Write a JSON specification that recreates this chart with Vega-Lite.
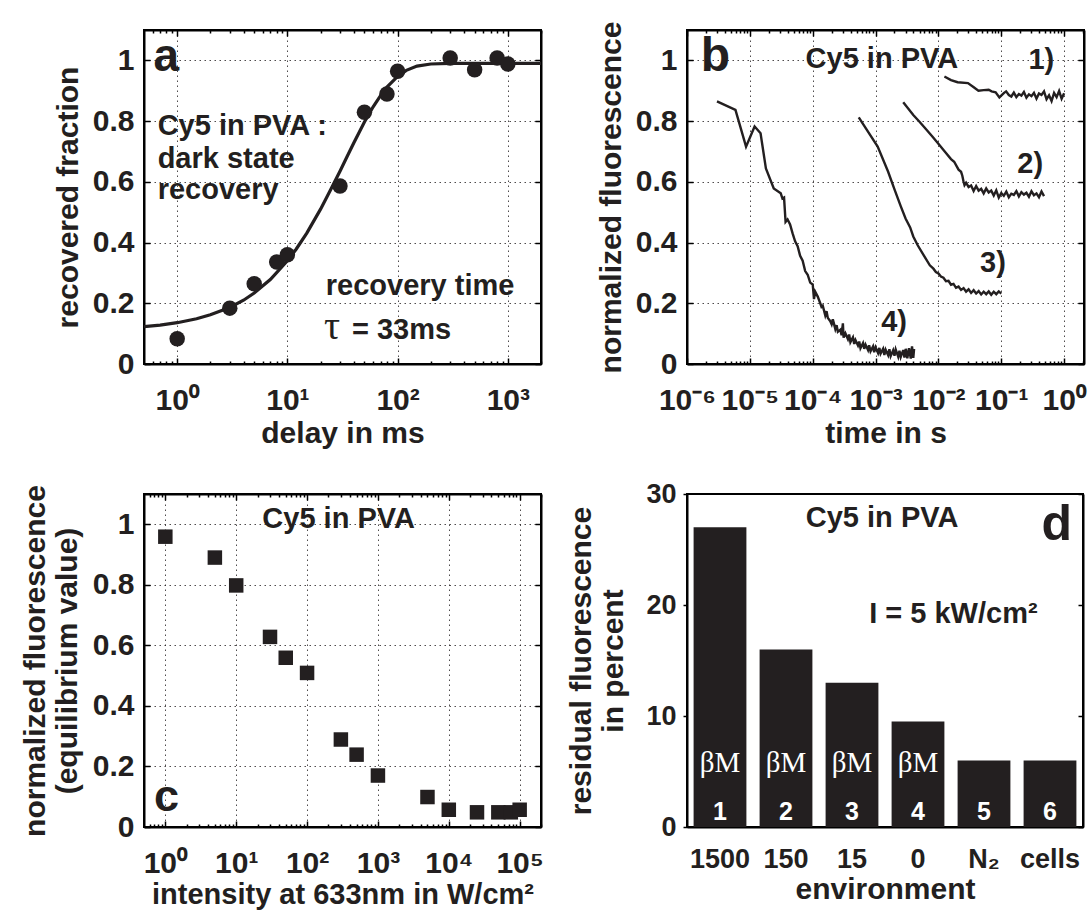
{
  "$schema": "https://vega.github.io/schema/vega-lite/v6.json",
  "padding": {"left": 19, "top": 20, "right": 0, "bottom": 0},
  "config": {
    "font": "Liberation Sans",
    "view": {"stroke": "black", "strokeWidth": 2, "strokeOpacity": 1},
    "axis": {
      "labelFontSize": 30, "labelFontWeight": "bold", "labelColor": "#231f20",
      "titleFontSize": 30, "titleFontWeight": "bold", "titleColor": "#231f20",
      "domain": true, "domainColor": "black", "domainWidth": 2, "domainOpacity": 1,
      "ticks": true, "tickColor": "black", "tickSize": -5, "tickWidth": 1.5, "tickOpacity": 1,
      "gridColor": "#231f20", "gridDash": [1.5, 3.5], "gridWidth": 1,
      "labelOverlap": false, "labelFlush": false
    }
  },
  "datasets": {
    "a_fit": [
      {"t": 0.5, "f": 0.123}, {"t": 0.7, "f": 0.128}, {"t": 1, "f": 0.136}, {"t": 1.5, "f": 0.149},
      {"t": 2, "f": 0.162}, {"t": 3, "f": 0.186}, {"t": 4, "f": 0.21}, {"t": 5, "f": 0.234},
      {"t": 7, "f": 0.278}, {"t": 10, "f": 0.34}, {"t": 12, "f": 0.378}, {"t": 15, "f": 0.431},
      {"t": 20, "f": 0.51}, {"t": 25, "f": 0.578}, {"t": 30, "f": 0.635}, {"t": 35, "f": 0.685},
      {"t": 40, "f": 0.728}, {"t": 50, "f": 0.797}, {"t": 60, "f": 0.847}, {"t": 70, "f": 0.884},
      {"t": 80, "f": 0.912}, {"t": 100, "f": 0.947}, {"t": 120, "f": 0.967}, {"t": 150, "f": 0.981},
      {"t": 200, "f": 0.988}, {"t": 300, "f": 0.99}, {"t": 500, "f": 0.99}, {"t": 1000, "f": 0.99},
      {"t": 2000, "f": 0.99}
    ],
    "a_pts": [
      {"t": 1, "f": 0.083}, {"t": 3, "f": 0.184}, {"t": 5, "f": 0.264}, {"t": 8, "f": 0.336},
      {"t": 10, "f": 0.36}, {"t": 30, "f": 0.586}, {"t": 50, "f": 0.829}, {"t": 80, "f": 0.889},
      {"t": 100, "f": 0.964}, {"t": 300, "f": 1.008}, {"t": 500, "f": 0.969}, {"t": 800, "f": 1.008},
      {"t": 1000, "f": 0.988}
    ],
    "a_text": [
      {"x": 0.665, "y": 0.754, "label": "Cy5 in PVA :"},
      {"x": 0.665, "y": 0.644, "label": "dark state"},
      {"x": 0.665, "y": 0.543, "label": "recovery"},
      {"x": 22.3, "y": 0.226, "label": "recovery time"},
      {"x": 38.5, "y": 0.083, "label": "= 33ms"}
    ],
    "a_tau": [{"x": 21.5, "y": 0.083, "label": "τ"}],
    "a_letter": [{"x": 0.61, "y": 0.964, "label": "a"}],
    "b_traces": [
      {"curve": "1", "t": 1.245e-2, "f": 0.947}, {"curve": "1", "t": 1.585e-2, "f": 0.935},
      {"curve": "1", "t": 2.02e-2, "f": 0.928}, {"curve": "1", "t": 2.95e-2, "f": 0.925},
      {"curve": "1", "t": 3.6e-2, "f": 0.912}, {"curve": "1", "t": 4.33e-2, "f": 0.9},
      {"curve": "1", "t": 5.25e-2, "f": 0.902}, {"curve": "1", "t": 6.31e-2, "f": 0.903},
      {"curve": "1", "t": 7.0e-2, "f": 0.898}, {"curve": "1", "t": 8.13e-2, "f": 0.895},
      {"curve": "1", "t": 9.33e-2, "f": 0.878}, {"curve": "1", "t": 0.1096, "f": 0.892},
      {"curve": "1", "t": 0.1194, "f": 0.898}, {"curve": "1", "t": 0.1318, "f": 0.886},
      {"curve": "1", "t": 0.1445, "f": 0.881}, {"curve": "1", "t": 0.1585, "f": 0.894},
      {"curve": "1", "t": 0.1738, "f": 0.879}, {"curve": "1", "t": 0.1905, "f": 0.889},
      {"curve": "1", "t": 0.2089, "f": 0.884}, {"curve": "1", "t": 0.2291, "f": 0.896},
      {"curve": "1", "t": 0.2512, "f": 0.877}, {"curve": "1", "t": 0.2754, "f": 0.888},
      {"curve": "1", "t": 0.302, "f": 0.882}, {"curve": "1", "t": 0.3311, "f": 0.893},
      {"curve": "1", "t": 0.3631, "f": 0.874}, {"curve": "1", "t": 0.3981, "f": 0.891},
      {"curve": "1", "t": 0.4365, "f": 0.886}, {"curve": "1", "t": 0.4786, "f": 0.898},
      {"curve": "1", "t": 0.5248, "f": 0.872}, {"curve": "1", "t": 0.5754, "f": 0.885},
      {"curve": "1", "t": 0.631, "f": 0.866}, {"curve": "1", "t": 0.6918, "f": 0.893},
      {"curve": "1", "t": 0.7586, "f": 0.879}, {"curve": "1", "t": 0.8318, "f": 0.899},
      {"curve": "1", "t": 0.912, "f": 0.874}, {"curve": "1", "t": 1.0, "f": 0.892},

      {"curve": "2", "t": 2.754e-3, "f": 0.862}, {"curve": "2", "t": 3.98e-3, "f": 0.82},
      {"curve": "2", "t": 5.0e-3, "f": 0.798}, {"curve": "2", "t": 6.31e-3, "f": 0.774},
      {"curve": "2", "t": 7.94e-3, "f": 0.75}, {"curve": "2", "t": 9.4e-3, "f": 0.732},
      {"curve": "2", "t": 1.26e-2, "f": 0.7}, {"curve": "2", "t": 1.585e-2, "f": 0.675},
      {"curve": "2", "t": 1.78e-2, "f": 0.666}, {"curve": "2", "t": 2.09e-2, "f": 0.64},
      {"curve": "2", "t": 2.29e-2, "f": 0.633}, {"curve": "2", "t": 2.4e-2, "f": 0.62},
      {"curve": "2", "t": 2.512e-2, "f": 0.6}, {"curve": "2", "t": 2.6e-2, "f": 0.589},
      {"curve": "2", "t": 2.754e-2, "f": 0.597}, {"curve": "2", "t": 3.02e-2, "f": 0.583},
      {"curve": "2", "t": 3.311e-2, "f": 0.588}, {"curve": "2", "t": 3.631e-2, "f": 0.57},
      {"curve": "2", "t": 3.981e-2, "f": 0.586}, {"curve": "2", "t": 4.365e-2, "f": 0.571},
      {"curve": "2", "t": 4.786e-2, "f": 0.577}, {"curve": "2", "t": 5.248e-2, "f": 0.562},
      {"curve": "2", "t": 5.754e-2, "f": 0.578}, {"curve": "2", "t": 6.31e-2, "f": 0.565},
      {"curve": "2", "t": 6.918e-2, "f": 0.571}, {"curve": "2", "t": 7.586e-2, "f": 0.555},
      {"curve": "2", "t": 8.318e-2, "f": 0.572}, {"curve": "2", "t": 9.12e-2, "f": 0.548},
      {"curve": "2", "t": 0.1, "f": 0.563}, {"curve": "2", "t": 0.1096, "f": 0.554},
      {"curve": "2", "t": 0.1202, "f": 0.568}, {"curve": "2", "t": 0.1318, "f": 0.549},
      {"curve": "2", "t": 0.1445, "f": 0.561}, {"curve": "2", "t": 0.1585, "f": 0.557},
      {"curve": "2", "t": 0.1738, "f": 0.569}, {"curve": "2", "t": 0.1905, "f": 0.552},
      {"curve": "2", "t": 0.2089, "f": 0.566}, {"curve": "2", "t": 0.2291, "f": 0.558},
      {"curve": "2", "t": 0.2512, "f": 0.564}, {"curve": "2", "t": 0.2754, "f": 0.551},
      {"curve": "2", "t": 0.302, "f": 0.569}, {"curve": "2", "t": 0.3311, "f": 0.556},
      {"curve": "2", "t": 0.3631, "f": 0.562}, {"curve": "2", "t": 0.3981, "f": 0.549},
      {"curve": "2", "t": 0.4365, "f": 0.568}, {"curve": "2", "t": 0.4786, "f": 0.553},

      {"curve": "3", "t": 5.4e-4, "f": 0.812}, {"curve": "3", "t": 1.08e-3, "f": 0.716},
      {"curve": "3", "t": 1.585e-3, "f": 0.633}, {"curve": "3", "t": 2.0e-3, "f": 0.575},
      {"curve": "3", "t": 2.512e-3, "f": 0.52}, {"curve": "3", "t": 3.0e-3, "f": 0.479},
      {"curve": "3", "t": 3.55e-3, "f": 0.45}, {"curve": "3", "t": 3.98e-3, "f": 0.42},
      {"curve": "3", "t": 4.68e-3, "f": 0.391}, {"curve": "3", "t": 5.75e-3, "f": 0.36},
      {"curve": "3", "t": 7.3e-3, "f": 0.325}, {"curve": "3", "t": 8.318e-3, "f": 0.314},
      {"curve": "3", "t": 9.12e-3, "f": 0.303}, {"curve": "3", "t": 1.0e-2, "f": 0.298},
      {"curve": "3", "t": 1.096e-2, "f": 0.288}, {"curve": "3", "t": 1.202e-2, "f": 0.284},
      {"curve": "3", "t": 1.318e-2, "f": 0.273}, {"curve": "3", "t": 1.445e-2, "f": 0.274},
      {"curve": "3", "t": 1.585e-2, "f": 0.261}, {"curve": "3", "t": 1.738e-2, "f": 0.264},
      {"curve": "3", "t": 1.905e-2, "f": 0.251}, {"curve": "3", "t": 2.089e-2, "f": 0.255},
      {"curve": "3", "t": 2.291e-2, "f": 0.244}, {"curve": "3", "t": 2.512e-2, "f": 0.25},
      {"curve": "3", "t": 2.754e-2, "f": 0.238}, {"curve": "3", "t": 3.02e-2, "f": 0.246},
      {"curve": "3", "t": 3.311e-2, "f": 0.234}, {"curve": "3", "t": 3.631e-2, "f": 0.243},
      {"curve": "3", "t": 3.981e-2, "f": 0.232}, {"curve": "3", "t": 4.365e-2, "f": 0.24},
      {"curve": "3", "t": 4.786e-2, "f": 0.229}, {"curve": "3", "t": 5.248e-2, "f": 0.238},
      {"curve": "3", "t": 5.754e-2, "f": 0.23}, {"curve": "3", "t": 6.31e-2, "f": 0.239},
      {"curve": "3", "t": 6.918e-2, "f": 0.228}, {"curve": "3", "t": 7.586e-2, "f": 0.238},
      {"curve": "3", "t": 8.318e-2, "f": 0.23}, {"curve": "3", "t": 9.12e-2, "f": 0.239},
      {"curve": "3", "t": 0.1, "f": 0.232},

      {"curve": "4", "t": 3.0e-6, "f": 0.865}, {"curve": "4", "t": 5.9e-6, "f": 0.837},
      {"curve": "4", "t": 8.7e-6, "f": 0.716}, {"curve": "4", "t": 1.19e-5, "f": 0.782},
      {"curve": "4", "t": 1.48e-5, "f": 0.76}, {"curve": "4", "t": 1.8e-5, "f": 0.644},
      {"curve": "4", "t": 2.4e-5, "f": 0.578}, {"curve": "4", "t": 3.1e-5, "f": 0.562},
      {"curve": "4", "t": 3.3e-5, "f": 0.545}, {"curve": "4", "t": 3.5e-5, "f": 0.548},
      {"curve": "4", "t": 3.7e-5, "f": 0.468}, {"curve": "4", "t": 3.981e-5, "f": 0.476},
      {"curve": "4", "t": 4.365e-5, "f": 0.46}, {"curve": "4", "t": 4.786e-5, "f": 0.43},
      {"curve": "4", "t": 5.248e-5, "f": 0.404}, {"curve": "4", "t": 5.754e-5, "f": 0.388},
      {"curve": "4", "t": 6.31e-5, "f": 0.356}, {"curve": "4", "t": 6.918e-5, "f": 0.34},
      {"curve": "4", "t": 7.586e-5, "f": 0.306}, {"curve": "4", "t": 8.318e-5, "f": 0.294},
      {"curve": "4", "t": 9.12e-5, "f": 0.268}, {"curve": "4", "t": 1.0e-4, "f": 0.262},
      {"curve": "4", "t": 1.048e-4, "f": 0.214}, {"curve": "4", "t": 1.096e-4, "f": 0.238},
      {"curve": "4", "t": 1.202e-4, "f": 0.222}, {"curve": "4", "t": 1.318e-4, "f": 0.2},
      {"curve": "4", "t": 1.38e-4, "f": 0.188}, {"curve": "4", "t": 1.445e-4, "f": 0.192},
      {"curve": "4", "t": 1.585e-4, "f": 0.16}, {"curve": "4", "t": 1.66e-4, "f": 0.174},
      {"curve": "4", "t": 1.738e-4, "f": 0.152}, {"curve": "4", "t": 1.905e-4, "f": 0.141},
      {"curve": "4", "t": 2.0e-4, "f": 0.131}, {"curve": "4", "t": 2.089e-4, "f": 0.147},
      {"curve": "4", "t": 2.291e-4, "f": 0.115}, {"curve": "4", "t": 2.4e-4, "f": 0.128},
      {"curve": "4", "t": 2.512e-4, "f": 0.106}, {"curve": "4", "t": 2.754e-4, "f": 0.113},
      {"curve": "4", "t": 2.88e-4, "f": 0.095}, {"curve": "4", "t": 3.02e-4, "f": 0.134},
      {"curve": "4", "t": 3.1e-4, "f": 0.087}, {"curve": "4", "t": 3.311e-4, "f": 0.101},
      {"curve": "4", "t": 3.631e-4, "f": 0.082}, {"curve": "4", "t": 3.8e-4, "f": 0.097},
      {"curve": "4", "t": 3.981e-4, "f": 0.072}, {"curve": "4", "t": 4.365e-4, "f": 0.088},
      {"curve": "4", "t": 4.57e-4, "f": 0.066}, {"curve": "4", "t": 4.786e-4, "f": 0.079},
      {"curve": "4", "t": 5.248e-4, "f": 0.061}, {"curve": "4", "t": 5.5e-4, "f": 0.074},
      {"curve": "4", "t": 5.754e-4, "f": 0.052}, {"curve": "4", "t": 6.31e-4, "f": 0.069},
      {"curve": "4", "t": 6.6e-4, "f": 0.05}, {"curve": "4", "t": 6.918e-4, "f": 0.064},
      {"curve": "4", "t": 7.586e-4, "f": 0.046}, {"curve": "4", "t": 7.9e-4, "f": 0.062},
      {"curve": "4", "t": 8.318e-4, "f": 0.042}, {"curve": "4", "t": 9.12e-4, "f": 0.058},
      {"curve": "4", "t": 9.5e-4, "f": 0.039}, {"curve": "4", "t": 1.0e-3, "f": 0.055},
      {"curve": "4", "t": 1.096e-3, "f": 0.036}, {"curve": "4", "t": 1.15e-3, "f": 0.053},
      {"curve": "4", "t": 1.202e-3, "f": 0.034}, {"curve": "4", "t": 1.318e-3, "f": 0.05},
      {"curve": "4", "t": 1.38e-3, "f": 0.03}, {"curve": "4", "t": 1.445e-3, "f": 0.047},
      {"curve": "4", "t": 1.585e-3, "f": 0.029}, {"curve": "4", "t": 1.66e-3, "f": 0.049},
      {"curve": "4", "t": 1.738e-3, "f": 0.026}, {"curve": "4", "t": 1.905e-3, "f": 0.045},
      {"curve": "4", "t": 2.0e-3, "f": 0.027}, {"curve": "4", "t": 2.089e-3, "f": 0.048},
      {"curve": "4", "t": 2.291e-3, "f": 0.024}, {"curve": "4", "t": 2.4e-3, "f": 0.044},
      {"curve": "4", "t": 2.512e-3, "f": 0.023}, {"curve": "4", "t": 2.754e-3, "f": 0.046},
      {"curve": "4", "t": 2.88e-3, "f": 0.021}, {"curve": "4", "t": 3.02e-3, "f": 0.05},
      {"curve": "4", "t": 3.2e-3, "f": 0.019}, {"curve": "4", "t": 3.4e-3, "f": 0.052},
      {"curve": "4", "t": 3.631e-3, "f": 0.018}, {"curve": "4", "t": 3.8e-3, "f": 0.058},
      {"curve": "4", "t": 3.981e-3, "f": 0.02}, {"curve": "4", "t": 4.1e-3, "f": 0.05}
    ],
    "b_text": [
      {"x": 7.7e-5, "y": 0.975, "label": "Cy5 in PVA"},
      {"x": 0.27, "y": 0.972, "label": "1)"},
      {"x": 0.18, "y": 0.628, "label": "2)"},
      {"x": 0.046, "y": 0.303, "label": "3)"},
      {"x": 1.23e-3, "y": 0.11, "label": "4)"}
    ],
    "b_letter": [{"x": 1.66e-6, "y": 0.964, "label": "b"}],
    "c_pts": [
      {"I": 1, "f": 0.959}, {"I": 5, "f": 0.89}, {"I": 10, "f": 0.798}, {"I": 30, "f": 0.628},
      {"I": 50, "f": 0.559}, {"I": 100, "f": 0.509}, {"I": 300, "f": 0.289}, {"I": 500, "f": 0.239},
      {"I": 1000, "f": 0.17}, {"I": 5000, "f": 0.099}, {"I": 10000, "f": 0.057}, {"I": 25000, "f": 0.0485},
      {"I": 50000, "f": 0.0485}, {"I": 75000, "f": 0.0485}, {"I": 100000, "f": 0.057}
    ],
    "c_text": [{"x": 23.4, "y": 0.989, "label": "Cy5 in PVA"}],
    "c_letter": [{"x": 0.69, "y": 0.052, "label": "c"}],
    "d_bars": [
      {"env": "1500", "val": 27.0, "sub": "βM", "num": "1"},
      {"env": "150", "val": 16.0, "sub": "βM", "num": "2"},
      {"env": "15", "val": 13.0, "sub": "βM", "num": "3"},
      {"env": "0", "val": 9.5, "sub": "βM", "num": "4"},
      {"env": "N₂", "val": 6.0, "sub": "", "num": "5"},
      {"env": "cells", "val": 6.0, "sub": "", "num": "6"}
    ],
    "d_text": [
      {"x": 1.8, "y": 27.0, "label": "Cy5 in PVA"},
      {"x": 2.76, "y": 18.4, "label": "I = 5 kW/cm²"}
    ],
    "d_letter": [{"x": 5.37, "y": 25.9, "label": "d"}]
  },
  "columns": 2,
  "spacing": {"row": 30, "column": 16},
  "concat": [
    {
      "width": 397, "height": 334,
      "view": {"stroke": "black", "strokeWidth": 2, "strokeOpacity": 1},
      "resolve": {"axis": {"x": "independent", "y": "independent"}},
      "layer": [
        {
          "data": {"name": "a_fit"},
          "mark": {"type": "line", "color": "#231f20", "strokeWidth": 3.2},
          "encoding": {
            "x": {"field": "t", "type": "quantitative", "scale": {"type": "log", "domain": [0.5, 2000], "nice": false},
                  "axis": {"values": [0.6, 0.7, 0.8, 0.9, 1, 2, 3, 4, 5, 6, 7, 8, 9, 10, 20, 30, 40, 50, 60, 70, 80, 90, 100, 200, 300, 400, 500, 600, 700, 800, 900, 1000, 2000],
                           "domain": true, "domainColor": "black", "domainWidth": 2, "ticks": true, "tickColor": "black", "tickWidth": 1.5,
                           "grid": true, "title": "delay in ms", "labelPadding": 27, "titlePadding": 0,
                           "gridOpacity": {"condition": {"test": "abs(log(datum.value)/LN10 - round(log(datum.value)/LN10)) < 0.001", "value": 0.8}, "value": 0},
                           "tickSize": {"condition": {"test": "abs(log(datum.value)/LN10 - round(log(datum.value)/LN10)) < 0.001", "value": -6}, "value": -3},
                           "labelExpr": "abs(log(datum.value)/LN10 - round(log(datum.value)/LN10)) < 0.001 ? '10' + (datum.value < 0.999 ? '⁻' : '') + ['⁰','¹','²','³','⁴','⁵','⁶'][abs(round(log(datum.value)/LN10))] : ''"}},
            "y": {"field": "f", "type": "quantitative", "scale": {"domain": [0, 1.1], "nice": false},
                  "axis": {"values": [0, 0.2, 0.4, 0.6, 0.8, 1], "format": "~g", "domain": true, "domainColor": "black", "domainWidth": 2, "ticks": true, "tickColor": "black", "tickWidth": 1.5, "tickSize": -6,
                           "grid": true, "gridOpacity": 0.8, "title": "recovered fraction", "labelPadding": 16, "titlePadding": 9}}
          }
        },
        {
          "data": {"name": "a_pts"},
          "mark": {"type": "circle", "size": 240, "color": "#231f20", "opacity": 1},
          "encoding": {
            "x": {"field": "t", "type": "quantitative", "axis": {"orient": "top", "values": [0.6, 0.7, 0.8, 0.9, 1, 2, 3, 4, 5, 6, 7, 8, 9, 10, 20, 30, 40, 50, 60, 70, 80, 90, 100, 200, 300, 400, 500, 600, 700, 800, 900, 1000, 2000],
                  "domain": true, "domainColor": "black", "domainWidth": 2, "ticks": true, "tickColor": "black", "tickWidth": 1.5,
                  "tickSize": {"condition": {"test": "abs(log(datum.value)/LN10 - round(log(datum.value)/LN10)) < 0.001", "value": -6}, "value": -3},
                  "labels": false, "title": null, "grid": false}},
            "y": {"field": "f", "type": "quantitative", "axis": {"orient": "right", "values": [0, 0.2, 0.4, 0.6, 0.8, 1], "domain": true, "domainColor": "black", "domainWidth": 2, "ticks": true, "tickColor": "black", "tickWidth": 1.5, "tickSize": -6, "labels": false, "title": null, "grid": false}}
          }
        },
        {
          "mark": {"type": "rect", "fill": null, "stroke": "black", "strokeWidth": 2, "strokeOpacity": 1},
          "encoding": {
            "x": {"datum": 0.5, "type": "quantitative", "axis": null}, "x2": {"datum": 2000},
            "y": {"datum": 0, "type": "quantitative", "axis": null}, "y2": {"datum": 1.1}
          }
        },
        {
          "data": {"name": "a_text"},
          "mark": {"type": "text", "align": "left", "baseline": "alphabetic", "fontSize": 29, "fontWeight": "bold", "color": "#231f20"},
          "encoding": {
            "x": {"field": "x", "type": "quantitative", "axis": null},
            "y": {"field": "y", "type": "quantitative", "axis": null},
            "text": {"field": "label"}
          }
        },
        {
          "data": {"name": "a_tau"},
          "mark": {"type": "text", "align": "left", "baseline": "alphabetic", "fontSize": 40, "font": "Liberation Serif", "color": "#231f20"},
          "encoding": {
            "x": {"field": "x", "type": "quantitative", "axis": null},
            "y": {"field": "y", "type": "quantitative", "axis": null},
            "text": {"field": "label"}
          }
        },
        {
          "data": {"name": "a_letter"},
          "mark": {"type": "text", "align": "left", "baseline": "alphabetic", "fontSize": 46, "fontWeight": "bold", "color": "#231f20"},
          "encoding": {
            "x": {"field": "x", "type": "quantitative", "axis": null},
            "y": {"field": "y", "type": "quantitative", "axis": null},
            "text": {"field": "label"}
          }
        }
      ]
    },
    {
      "width": 397, "height": 334,
      "view": {"stroke": "black", "strokeWidth": 2, "strokeOpacity": 1},
      "resolve": {"axis": {"x": "independent", "y": "independent"}},
      "layer": [
        {
          "data": {"name": "b_traces"},
          "mark": {"type": "line", "color": "#231f20", "strokeWidth": 2.4},
          "encoding": {
            "x": {"field": "t", "type": "quantitative", "scale": {"type": "log", "domain": [1e-6, 2.07], "nice": false},
                  "axis": {"values": [1e-6, 2e-6, 3e-6, 4e-6, 5e-6, 6e-6, 7e-6, 8e-6, 9e-6, 1e-5, 2e-5, 3e-5, 4e-5, 5e-5, 6e-5, 7e-5, 8e-5, 9e-5, 1e-4, 2e-4, 3e-4, 4e-4, 5e-4, 6e-4, 7e-4, 8e-4, 9e-4, 1e-3, 2e-3, 3e-3, 4e-3, 5e-3, 6e-3, 7e-3, 8e-3, 9e-3, 1e-2, 2e-2, 3e-2, 4e-2, 5e-2, 6e-2, 7e-2, 8e-2, 9e-2, 0.1, 0.2, 0.3, 0.4, 0.5, 0.6, 0.7, 0.8, 0.9, 1, 2],
                           "domain": true, "domainColor": "black", "domainWidth": 2, "ticks": true, "tickColor": "black", "tickWidth": 1.5,
                           "grid": true, "title": "time in s", "labelPadding": 27, "titlePadding": 0,
                           "gridOpacity": {"condition": {"test": "abs(log(datum.value)/LN10 - round(log(datum.value)/LN10)) < 0.001", "value": 0.8}, "value": 0},
                           "tickSize": {"condition": {"test": "abs(log(datum.value)/LN10 - round(log(datum.value)/LN10)) < 0.001", "value": -6}, "value": -3},
                           "labelExpr": "abs(log(datum.value)/LN10 - round(log(datum.value)/LN10)) < 0.001 ? '10' + (datum.value < 0.999 ? '⁻' : '') + ['⁰','¹','²','³','⁴','⁵','⁶'][abs(round(log(datum.value)/LN10))] : ''"}},
            "y": {"field": "f", "type": "quantitative", "scale": {"domain": [0, 1.1], "nice": false},
                  "axis": {"values": [0, 0.2, 0.4, 0.6, 0.8, 1], "format": "~g", "domain": true, "domainColor": "black", "domainWidth": 2, "ticks": true, "tickColor": "black", "tickWidth": 1.5, "tickSize": -6,
                           "grid": true, "gridOpacity": 0.8, "title": "normalized fluorescence", "labelPadding": 16, "titlePadding": 9}},
            "detail": {"field": "curve", "type": "nominal"}
          }
        },
        {
          "mark": {"type": "rect", "fill": null, "stroke": "black", "strokeWidth": 2, "strokeOpacity": 1},
          "encoding": {
            "x": {"datum": 1e-6, "type": "quantitative", "axis": null}, "x2": {"datum": 2.07},
            "y": {"datum": 0, "type": "quantitative", "axis": null}, "y2": {"datum": 1.1}
          }
        },
        {
          "data": {"name": "b_text"},
          "mark": {"type": "text", "align": "left", "baseline": "alphabetic", "fontSize": 29, "fontWeight": "bold", "color": "#231f20"},
          "encoding": {
            "x": {"field": "x", "type": "quantitative", "axis": {"orient": "top", "values": [1e-6, 2e-6, 3e-6, 4e-6, 5e-6, 6e-6, 7e-6, 8e-6, 9e-6, 1e-5, 2e-5, 3e-5, 4e-5, 5e-5, 6e-5, 7e-5, 8e-5, 9e-5, 1e-4, 2e-4, 3e-4, 4e-4, 5e-4, 6e-4, 7e-4, 8e-4, 9e-4, 1e-3, 2e-3, 3e-3, 4e-3, 5e-3, 6e-3, 7e-3, 8e-3, 9e-3, 1e-2, 2e-2, 3e-2, 4e-2, 5e-2, 6e-2, 7e-2, 8e-2, 9e-2, 0.1, 0.2, 0.3, 0.4, 0.5, 0.6, 0.7, 0.8, 0.9, 1, 2],
                  "domain": true, "domainColor": "black", "domainWidth": 2, "ticks": true, "tickColor": "black", "tickWidth": 1.5,
                  "tickSize": {"condition": {"test": "abs(log(datum.value)/LN10 - round(log(datum.value)/LN10)) < 0.001", "value": -6}, "value": -3},
                  "labels": false, "title": null, "grid": false}},
            "y": {"field": "y", "type": "quantitative", "axis": {"orient": "right", "values": [0, 0.2, 0.4, 0.6, 0.8, 1], "domain": true, "domainColor": "black", "domainWidth": 2, "ticks": true, "tickColor": "black", "tickWidth": 1.5, "tickSize": -6, "labels": false, "title": null, "grid": false}},
            "text": {"field": "label"}
          }
        },
        {
          "data": {"name": "b_letter"},
          "mark": {"type": "text", "align": "left", "baseline": "alphabetic", "fontSize": 48, "fontWeight": "bold", "color": "#231f20"},
          "encoding": {
            "x": {"field": "x", "type": "quantitative", "axis": null},
            "y": {"field": "y", "type": "quantitative", "axis": null},
            "text": {"field": "label"}
          }
        }
      ]
    },
    {
      "width": 397, "height": 333,
      "view": {"stroke": "black", "strokeWidth": 2, "strokeOpacity": 1},
      "resolve": {"axis": {"x": "independent", "y": "independent"}},
      "layer": [
        {
          "data": {"name": "c_pts"},
          "mark": {"type": "square", "size": 210, "color": "#231f20", "opacity": 1},
          "encoding": {
            "x": {"field": "I", "type": "quantitative", "scale": {"type": "log", "domain": [0.5, 200000], "nice": false},
                  "axis": {"values": [0.6, 0.7, 0.8, 0.9, 1, 2, 3, 4, 5, 6, 7, 8, 9, 10, 20, 30, 40, 50, 60, 70, 80, 90, 100, 200, 300, 400, 500, 600, 700, 800, 900, 1000, 2000, 3000, 4000, 5000, 6000, 7000, 8000, 9000, 10000, 20000, 30000, 40000, 50000, 60000, 70000, 80000, 90000, 100000, 200000],
                           "domain": true, "domainColor": "black", "domainWidth": 2, "ticks": true, "tickColor": "black", "tickWidth": 1.5,
                           "grid": true, "title": "intensity at 633nm in W/cm²", "titleFontSize": 29, "labelPadding": 27, "titlePadding": -1,
                           "gridOpacity": {"condition": {"test": "abs(log(datum.value)/LN10 - round(log(datum.value)/LN10)) < 0.001", "value": 0.8}, "value": 0},
                           "tickSize": {"condition": {"test": "abs(log(datum.value)/LN10 - round(log(datum.value)/LN10)) < 0.001", "value": -6}, "value": -3},
                           "labelExpr": "abs(log(datum.value)/LN10 - round(log(datum.value)/LN10)) < 0.001 ? '10' + (datum.value < 0.999 ? '⁻' : '') + ['⁰','¹','²','³','⁴','⁵','⁶'][abs(round(log(datum.value)/LN10))] : ''"}},
            "y": {"field": "f", "type": "quantitative", "scale": {"domain": [0, 1.1], "nice": false},
                  "axis": {"values": [0, 0.2, 0.4, 0.6, 0.8, 1], "format": "~g", "domain": true, "domainColor": "black", "domainWidth": 2, "ticks": true, "tickColor": "black", "tickWidth": 1.5, "tickSize": -6,
                           "grid": true, "gridOpacity": 0.8, "title": ["normalized fluorescence", "(equilibrium value)"], "titleLineHeight": 32, "labelPadding": 16, "titlePadding": 10}}
          }
        },
        {
          "mark": {"type": "rect", "fill": null, "stroke": "black", "strokeWidth": 2, "strokeOpacity": 1},
          "encoding": {
            "x": {"datum": 0.5, "type": "quantitative", "axis": null}, "x2": {"datum": 200000},
            "y": {"datum": 0, "type": "quantitative", "axis": null}, "y2": {"datum": 1.1}
          }
        },
        {
          "data": {"name": "c_text"},
          "mark": {"type": "text", "align": "left", "baseline": "alphabetic", "fontSize": 29, "fontWeight": "bold", "color": "#231f20"},
          "encoding": {
            "x": {"field": "x", "type": "quantitative", "axis": {"orient": "top", "values": [0.6, 0.7, 0.8, 0.9, 1, 2, 3, 4, 5, 6, 7, 8, 9, 10, 20, 30, 40, 50, 60, 70, 80, 90, 100, 200, 300, 400, 500, 600, 700, 800, 900, 1000, 2000, 3000, 4000, 5000, 6000, 7000, 8000, 9000, 10000, 20000, 30000, 40000, 50000, 60000, 70000, 80000, 90000, 100000, 200000],
                  "domain": true, "domainColor": "black", "domainWidth": 2, "ticks": true, "tickColor": "black", "tickWidth": 1.5,
                  "tickSize": {"condition": {"test": "abs(log(datum.value)/LN10 - round(log(datum.value)/LN10)) < 0.001", "value": -6}, "value": -3},
                  "labels": false, "title": null, "grid": false}},
            "y": {"field": "y", "type": "quantitative", "axis": {"orient": "right", "values": [0, 0.2, 0.4, 0.6, 0.8, 1], "domain": true, "domainColor": "black", "domainWidth": 2, "ticks": true, "tickColor": "black", "tickWidth": 1.5, "tickSize": -6, "labels": false, "title": null, "grid": false}},
            "text": {"field": "label"}
          }
        },
        {
          "data": {"name": "c_letter"},
          "mark": {"type": "text", "align": "left", "baseline": "alphabetic", "fontSize": 45, "fontWeight": "bold", "color": "#231f20"},
          "encoding": {
            "x": {"field": "x", "type": "quantitative", "axis": null},
            "y": {"field": "y", "type": "quantitative", "axis": null},
            "text": {"field": "label"}
          }
        }
      ]
    },
    {
      "width": 396, "height": 333,
      "view": {"stroke": "black", "strokeWidth": 2, "strokeOpacity": 1},
      "resolve": {"scale": {"x": "independent"}, "axis": {"x": "independent", "y": "independent"}},
      "layer": [
        {
          "data": {"name": "d_bars"},
          "encoding": {
            "x": {"field": "env", "type": "nominal", "sort": null, "scale": {"paddingInner": 0.2, "paddingOuter": 0.1},
                  "axis": {"title": "environment", "labelAngle": 0, "domain": true, "domainColor": "black", "domainWidth": 2, "ticks": false, "labelFontSize": 27, "labelPadding": 19, "titlePadding": 2}}
          },
          "layer": [
            {
              "mark": {"type": "bar", "color": "#231f20"},
              "encoding": {
                "y": {"field": "val", "type": "quantitative", "scale": {"domain": [0, 30], "nice": false},
                      "axis": {"values": [0, 10, 20, 30], "grid": false, "domain": true, "domainColor": "black", "domainWidth": 2, "ticks": true, "tickColor": "black", "tickWidth": 1.5, "tickSize": 4, "labelFontSize": 27, "labelPadding": 7,
                               "title": ["residual fluorescence", "in percent"], "titleLineHeight": 32, "titlePadding": 17}}
              }
            },
            {
              "mark": {"type": "text", "font": "Liberation Serif", "fontSize": 29, "color": "white", "baseline": "alphabetic"},
              "encoding": {"y": {"datum": 5.0}, "text": {"field": "sub"}}
            },
            {
              "mark": {"type": "text", "fontSize": 25, "fontWeight": "bold", "color": "white", "baseline": "alphabetic"},
              "encoding": {"y": {"datum": 0.6}, "text": {"field": "num"}}
            }
          ]
        },
        {
          "mark": {"type": "rect", "fill": null, "stroke": "black", "strokeWidth": 2, "strokeOpacity": 1},
          "encoding": {
            "x": {"datum": 0, "type": "quantitative", "scale": {"domain": [0, 6], "nice": false}, "axis": null}, "x2": {"datum": 6},
            "y": {"datum": 0, "type": "quantitative", "axis": null}, "y2": {"datum": 30}
          }
        },
        {
          "data": {"name": "d_text"},
          "mark": {"type": "text", "align": "left", "baseline": "alphabetic", "fontSize": 29, "fontWeight": "bold", "color": "#231f20"},
          "encoding": {
            "x": {"field": "x", "type": "quantitative", "scale": {"domain": [0, 6], "nice": false}, "axis": null},
            "y": {"field": "y", "type": "quantitative", "axis": {"orient": "right", "values": [0, 10, 20, 30], "domain": true, "domainColor": "black", "domainWidth": 2, "ticks": true, "tickColor": "black", "tickWidth": 1.5, "tickSize": -5, "labels": false, "title": null, "grid": false}},
            "text": {"field": "label"}
          }
        },
        {
          "data": {"name": "d_letter"},
          "mark": {"type": "text", "align": "left", "baseline": "alphabetic", "fontSize": 50, "fontWeight": "bold", "color": "#231f20"},
          "encoding": {
            "x": {"field": "x", "type": "quantitative", "scale": {"domain": [0, 6], "nice": false}, "axis": null},
            "y": {"field": "y", "type": "quantitative", "axis": null},
            "text": {"field": "label"}
          }
        }
      ]
    }
  ]
}
